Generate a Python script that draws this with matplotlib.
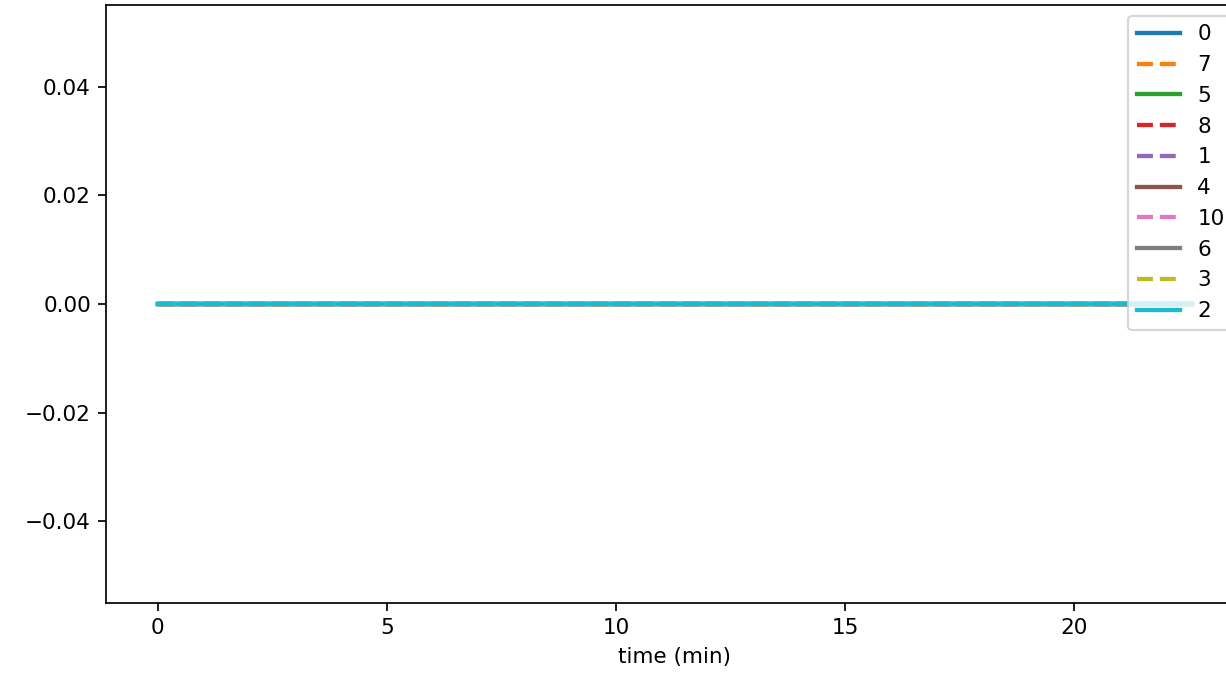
import matplotlib
matplotlib.use('Agg')
import matplotlib.pyplot as plt

# time axis (minutes) and signal for each labelled series
time_min = [0.0, 22.57]
labels = ['0', '7', '5', '8', '1', '4', '10', '6', '3', '2']
styles = ['-', '--', '-', '--', '--', '-', '--', '-', '--', '-']
values = {
    '0': [0.0, 0.0],
    '7': [0.0, 0.0],
    '5': [0.0, 0.0],
    '8': [0.0, 0.0],
    '1': [0.0, 0.0],
    '4': [0.0, 0.0],
    '10': [0.0, 0.0],
    '6': [0.0, 0.0],
    '3': [0.0, 0.0],
    '2': [0.0, 0.0],
}

dpi = 155
fig = plt.figure(figsize=(1226 / dpi, 678 / dpi), dpi=dpi)
# axes run past the right edge of the figure, as in the reference
ax = fig.add_axes([106 / 1226, 75 / 678, 1138 / 1226, 598 / 678])

for i, (lab, ls) in enumerate(zip(labels, styles)):
    ax.plot(time_min, values[lab], ls, color=f'C{i}', lw=2, label=lab)

ax.set_xlabel('time (min)')
ax.legend(loc='upper right')

fig.savefig('out.png', dpi=dpi)
